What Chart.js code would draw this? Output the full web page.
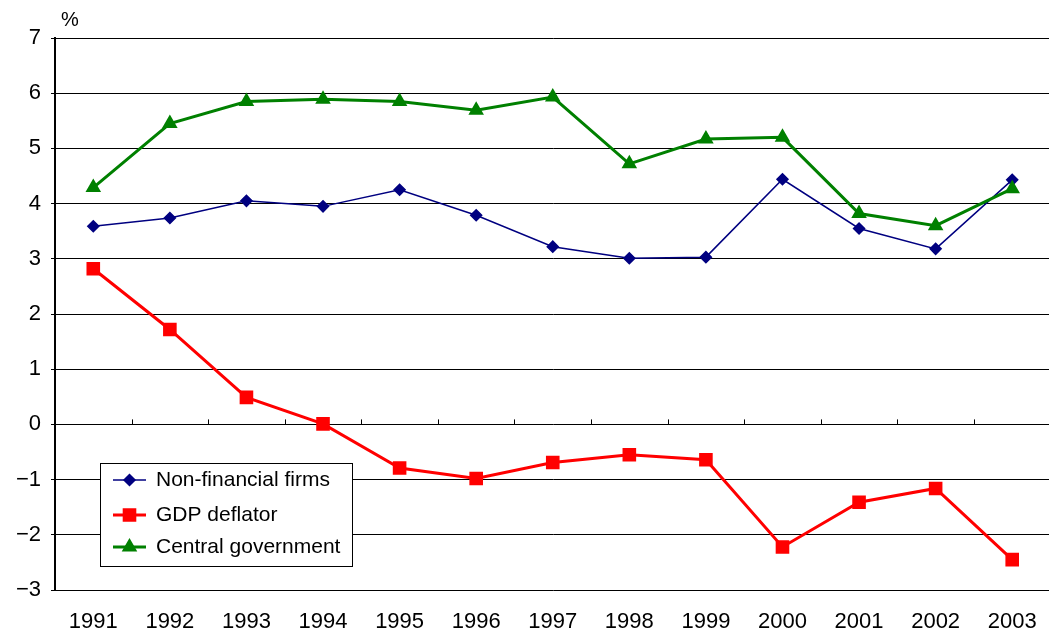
<!DOCTYPE html>
<html>
<head>
<meta charset="utf-8">
<script src="https://cdn.jsdelivr.net/npm/chart.js@4"></script>
<style>
  html, body { margin: 0; padding: 0; background: #fff; overflow: hidden; }
  #wrap { width: 1061px; height: 634px; position: relative; }
</style>
</head>
<body>
<div id="wrap"><canvas id="ratesChart"></canvas></div>
<script>
const years = ['1991', '1992', '1993', '1994', '1995', '1996', '1997', '1998', '1999', '2000', '2001', '2002', '2003'];
const nonFinancialFirms = [3.59, 3.74, 4.05, 3.95, 4.25, 3.79, 3.22, 3.01, 3.03, 4.44, 3.55, 3.18, 4.43];
const gdpDeflator = [2.82, 1.72, 0.49, 0.01, -0.79, -0.98, -0.69, -0.55, -0.64, -2.22, -1.41, -1.16, -2.45];
const centralGovernment = [4.29, 5.45, 5.85, 5.89, 5.85, 5.69, 5.93, 4.72, 5.17, 5.20, 3.82, 3.60, 4.27];

const FONT = "'Liberation Sans', Arial, sans-serif";

// tick marks on the zero line between categories, plus the "%" unit label
const zeroTicks = {
  id: 'zeroTicks',
  afterDatasetsDraw(chart) {
    const { ctx, scales: { x, y }, chartArea } = chart;
    const y0 = y.getPixelForValue(0);
    const step = x.getPixelForValue(1) - x.getPixelForValue(0);
    ctx.save();
    ctx.strokeStyle = '#000';
    ctx.lineWidth = 1;
    for (let i = 0; i < years.length; i++) {
      const px = Math.round(x.getPixelForValue(i) + step / 2) + 0.5;
      ctx.beginPath();
      ctx.moveTo(px, y0);
      ctx.lineTo(px, y0 - 5);
      ctx.stroke();
    }
    ctx.fillStyle = '#000';
    ctx.font = '20px ' + FONT;
    ctx.textBaseline = 'middle';
    ctx.fillText('%', chartArea.left + 6, chartArea.top - 18);
    ctx.restore();
  }
};

// boxed legend sitting inside the plot
const boxLegend = {
  id: 'boxLegend',
  afterDatasetsDraw(chart) {
    const ctx = chart.ctx;
    const left = 100, top = 463, w = 252, h = 103;
    ctx.save();
    ctx.fillStyle = '#fff';
    ctx.fillRect(left, top, w, h);
    ctx.strokeStyle = '#000';
    ctx.lineWidth = 1;
    ctx.strokeRect(left + 0.5, top + 0.5, w, h);
    const rows = [480, 515, 547];
    chart.data.datasets.forEach((ds, i) => {
      const ry = rows[i];
      ctx.strokeStyle = ds.borderColor;
      ctx.lineWidth = ds.borderWidth;
      ctx.beginPath();
      ctx.moveTo(113, ry);
      ctx.lineTo(146, ry);
      ctx.stroke();
      ctx.fillStyle = ds.pointBackgroundColor;
      ctx.strokeStyle = ds.pointBorderColor;
      Chart.helpers.drawPoint(ctx, {
        pointStyle: ds.pointStyle,
        radius: ds.pointRadius,
        borderWidth: 1,
        rotation: 0
      }, 129.5, ry);
      ctx.fillStyle = '#000';
      ctx.font = '21px ' + FONT;
      ctx.textBaseline = 'middle';
      ctx.fillText(ds.label, 156, ry);
    });
    ctx.restore();
  }
};

const ctx = document.getElementById('ratesChart').getContext('2d');
const ratesChart = new Chart(ctx, {
  type: 'line',
  data: {
    labels: years,
    datasets: [
      {
        label: 'Non-financial firms',
        data: nonFinancialFirms,
        borderColor: '#000080',
        backgroundColor: '#000080',
        pointBackgroundColor: '#000080',
        pointBorderColor: '#000080',
        borderWidth: 1.5,
        pointStyle: 'rectRot',
        pointRadius: 5.5,
        order: 2
      },
      {
        label: 'GDP deflator',
        data: gdpDeflator,
        borderColor: '#ff0000',
        backgroundColor: '#ff0000',
        pointBackgroundColor: '#ff0000',
        pointBorderColor: '#ff0000',
        borderWidth: 3,
        pointStyle: 'rect',
        pointRadius: 7.5,
        order: 1
      },
      {
        label: 'Central government',
        data: centralGovernment,
        borderColor: '#008000',
        backgroundColor: '#008000',
        pointBackgroundColor: '#008000',
        pointBorderColor: '#008000',
        borderWidth: 3,
        pointStyle: 'triangle',
        pointRadius: 6,
        order: 0
      }
    ]
  },
  options: {
    responsive: true,
    maintainAspectRatio: false,
    animation: false,
    devicePixelRatio: 1,
    layout: { padding: { top: 38, right: 0, left: 0, bottom: 0 } },
    plugins: {
      legend: { display: false },
      tooltip: { enabled: false }
    },
    elements: { line: { tension: 0 }, point: { borderWidth: 1 } },
    scales: {
      x: {
        offset: true,
        grid: { display: false },
        border: { display: false },
        ticks: { color: '#000', font: { family: FONT, size: 22 }, padding: 11, maxRotation: 0, autoSkip: false },
        afterFit(scale) { scale.height = 44; }
      },
      y: {
        min: -3,
        max: 7,
        grid: { color: '#000', lineWidth: 1, tickLength: 4, tickColor: '#000' },
        border: { color: '#000', width: 2 },
        ticks: {
          stepSize: 1,
          color: '#000',
          padding: 10,
          font: { family: FONT, size: 22 },
          callback: v => (v < 0 ? '\u2212' + Math.abs(v) : String(v))
        },
        afterFit(scale) { scale.width = 55; }
      }
    }
  },
  plugins: [zeroTicks, boxLegend]
});
</script>
</body>
</html>
